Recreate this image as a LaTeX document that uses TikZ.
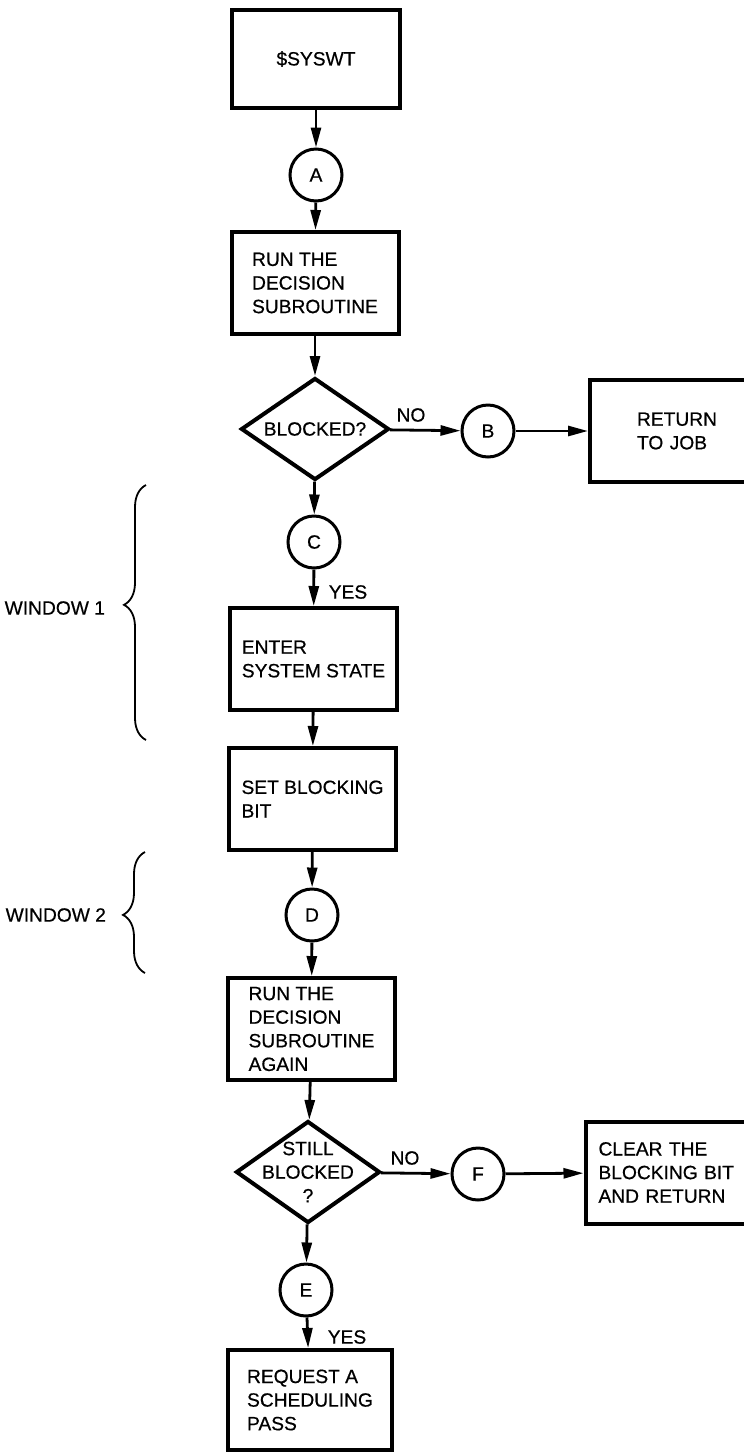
\documentclass[tikz,border=0pt]{standalone}
\usepackage{fontspec}
\setmainfont{Liberation Sans}[FakeBold=0.6]
\usetikzlibrary{arrows.meta, shapes.geometric, decorations.pathreplacing}
\newcommand{\chartfont}{\fontsize{9.6pt}{11.8pt}\selectfont}

\begin{document}
\begin{tikzpicture}[
    x=0.5pt, y=-0.5pt,
    font=\chartfont,
    box/.style={rectangle, draw, line width=2pt, minimum width=83.5pt,
                minimum height=51pt, align=left, inner sep=0pt},
    sidebox/.style={rectangle, draw, line width=2pt, minimum height=51pt,
                align=left, inner ysep=0pt},
    decision/.style={diamond, draw, line width=2pt, minimum height=51pt,
                aspect=1.5, align=center, inner sep=0pt},
    conn/.style={circle, draw, line width=1.5pt, minimum size=26pt, inner sep=0pt},
    arrow/.style={-{Triangle[length=10pt, width=5pt]}, line width=1.4pt},
    winbrace/.style={decorate, decoration={brace, amplitude=11pt, aspect=#1},
                line width=0.9pt},
    tag/.style={inner sep=0pt}
]
\clip (0,0) rectangle (744,1452);
\node[box, minimum width=84pt, minimum height=49pt, align=center] (sys) at (316,59) {\$SYSWT};
\node[conn] (a) at (316,175) {A};
\node[box] (run1) at (315,283) {RUN THE\\DECISION\\SUBROUTINE};
\node[decision, minimum width=74pt] (blk1) at (315,429) {BLOCKED?};
\node[conn] (b) at (488,431) {B};
\node[sidebox, inner xsep=23.5pt, text width=41pt] (ret) at (678,431) {RETURN\\TO JOB};
\node[conn] (c) at (314,542) {C};
\node[box] (enter) at (313.5,659) {ENTER\\SYSTEM STATE};
\node[box] (setbit) at (312.5,799) {SET BLOCKING\\BIT};
\node[conn] (d) at (312,915) {D};
\node[box] (run2) at (311.5,1029) {RUN THE\\DECISION\\SUBROUTINE\\AGAIN};
\node[decision, minimum width=72pt] (blk2) at (308,1172) {};
\node[align=center, inner sep=0pt] (blk2text) at (blk2) {STILL\\BLOCKED\\?};
\node[conn] (f) at (478,1174) {F};
\node[sidebox, inner xsep=6.5pt, text width=68pt] (clear) at (666.5,1172.5) {CLEAR THE\\BLOCKING BIT\\AND RETURN};
\node[conn] (e) at (306,1290) {E};
\node[box, minimum width=82pt, minimum height=50pt] (req) at (310,1400) {REQUEST A\\SCHEDULING\\PASS};

\node[tag] (no1) at (411,415) {NO};
\node[tag] (yes1) at (348,592) {YES};
\node[tag] (no2) at (405,1158) {NO};
\node[tag] (yes2) at (347,1337) {YES};

\draw[arrow] (sys) -- (a);
\draw[arrow] (a) -- (run1);
\draw[arrow] (run1) -- (blk1);
\draw[arrow] (blk1) -- (b);
\draw[arrow] (b) -- (ret);
\draw[arrow] (blk1) -- (c);
\draw[arrow] (c) -- (enter);
\draw[arrow] (enter) -- (setbit);
\draw[arrow] (setbit) -- (d);
\draw[arrow] (d) -- (run2);
\draw[arrow] (run2) -- (blk2);
\draw[arrow] (blk2) -- (f);
\draw[arrow] (f) -- (clear);
\draw[arrow] (blk2) -- (e);
\draw[arrow] (e) -- (req);

\coordinate (w1low) at (146,740);
\coordinate (w1high) at (146,485);
\coordinate (w2low) at (145,973);
\coordinate (w2high) at (145,852);
\draw[winbrace=0.53] (w1low) -- (w1high);
\draw[winbrace=0.48] (w2low) -- (w2high);
\node[anchor=east] (win1) at (112,608) {WINDOW 1};
\node[anchor=east] (win2) at (113,915) {WINDOW 2};
\end{tikzpicture}
\end{document}
